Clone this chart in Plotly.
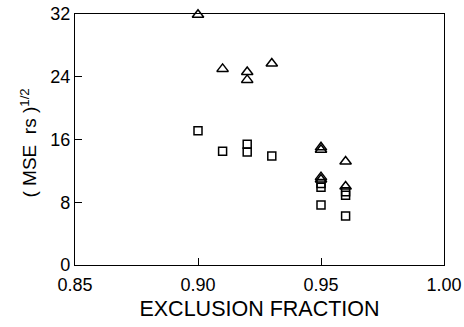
import plotly.graph_objects as go

tri_x = [0.90, 0.91, 0.92, 0.92, 0.93, 0.95, 0.95, 0.95, 0.95, 0.96, 0.96]
tri_y = [31.9, 25.0, 24.6, 23.6, 25.7, 15.0, 14.7, 11.2, 10.9, 13.2, 10.0]
sq_x = [0.90, 0.91, 0.92, 0.92, 0.93, 0.95, 0.95, 0.95, 0.96, 0.96, 0.96]
sq_y = [17.1, 14.5, 15.4, 14.4, 13.9, 10.4, 9.9, 7.65, 9.35, 8.9, 6.25]

x_ticks = [0.85, 0.90, 0.95, 1.00]
x_labels = ["0.85", "0.90", "0.95", "1.00"]
y_ticks = [0, 8, 16, 24, 32]
y_labels = ["0", "8", "16", "24", "32"]
x_title = "EXCLUSION FRACTION"
y_title = "( MSE  rs )<sup>1/2</sup>"

font = "Liberation Sans, Arial, sans-serif"

fig = go.Figure()
fig.add_trace(go.Scatter(x=tri_x, y=tri_y, mode="markers",
                         marker=dict(symbol="triangle-up-open", size=10, color="black",
                                     line=dict(width=1.5, color="black")),
                         cliponaxis=False, showlegend=False))
fig.add_trace(go.Scatter(x=sq_x, y=sq_y, mode="markers",
                         marker=dict(symbol="square-open", size=8, color="black",
                                     line=dict(width=1.5, color="black")),
                         cliponaxis=False, showlegend=False))

fig.update_layout(
    width=464, height=327,
    margin=dict(l=75, r=20, t=14, b=62),
    paper_bgcolor="white", plot_bgcolor="white",
    font=dict(family=font, color="black", size=18),
)
fig.update_xaxes(range=[0.85, 1.00], tickvals=x_ticks, ticktext=x_labels,
                 automargin=False, ticklabelstandoff=3,
                 showgrid=False, zeroline=False, showline=True, linecolor="black",
                 linewidth=1.2, mirror=True, ticks="inside", ticklen=7,
                 tickcolor="black", tickfont=dict(size=18),
                 title=dict(text=x_title, font=dict(size=21.5), standoff=7))
fig.update_yaxes(range=[0, 32], tickvals=y_ticks, ticktext=y_labels,
                 automargin=False,
                 showgrid=False, zeroline=False, showline=True, linecolor="black",
                 linewidth=1.2, mirror=True, ticks="inside", ticklen=7,
                 tickcolor="black", tickfont=dict(size=18))
fig.add_annotation(text=y_title, xref="paper", yref="paper", x=0, y=0.5,
                   xanchor="center", yanchor="middle", xshift=-47, yshift=-4,
                   textangle=-90, showarrow=False, font=dict(size=19, family=font))

fig.write_html("out.html", config={"displayModeBar": False},
               post_script="document.body.style.margin='0';document.body.style.padding='0';")
